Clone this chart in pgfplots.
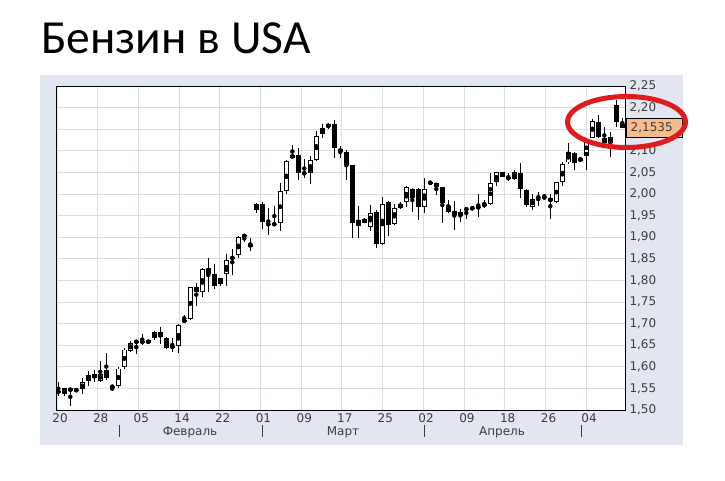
\documentclass[border=0pt]{standalone}
\usepackage{pgfplots}
\pgfplotsset{compat=1.18}
\usepackage{pgfplotstable}
\usepackage{fontspec}
\setmainfont{DejaVu Sans}
\newfontfamily\titlefont{Carlito}
\definecolor{panelc}{RGB}{225,230,241}
\definecolor{gridc}{RGB}{218,221,230}
\definecolor{labc}{RGB}{60,60,60}
\definecolor{boxc}{RGB}{248,188,140}
\definecolor{redc}{RGB}{222,28,30}
\pgfplotstableread{
x o h l c
0 1.544 1.565 1.533 1.541
1 1.538 1.551 1.533 1.550
2 1.550 1.552 1.509 1.544
3 1.546 1.548 1.544 1.546
4 1.548 1.575 1.536 1.564
5 1.567 1.590 1.556 1.581
6 1.583 1.592 1.564 1.573
7 1.568 1.613 1.564 1.583
8 1.592 1.632 1.569 1.575
9 1.554 1.554 1.545 1.554
10 1.555 1.599 1.550 1.596
11 1.599 1.643 1.596 1.640
12 1.637 1.660 1.635 1.654
13 1.658 1.662 1.629 1.658
14 1.658 1.676 1.650 1.658
15 1.654 1.663 1.653 1.662
16 1.666 1.683 1.662 1.680
17 1.680 1.693 1.652 1.669
18 1.666 1.669 1.641 1.643
19 1.646 1.666 1.635 1.646
20 1.649 1.700 1.631 1.697
21 1.704 1.721 1.704 1.709
22 1.710 1.785 1.708 1.784
23 1.784 1.793 1.741 1.774
24 1.774 1.828 1.762 1.826
25 1.828 1.851 1.774 1.815
26 1.815 1.839 1.781 1.788
27 1.791 1.806 1.788 1.805
28 1.814 1.862 1.787 1.847
29 1.852 1.872 1.812 1.852
30 1.859 1.903 1.851 1.901
31 1.903 1.905 1.889 1.903
32 1.884 1.899 1.868 1.878
33 1.964 1.980 1.957 1.977
34 1.977 1.982 1.918 1.936
35 1.930 1.967 1.906 1.930
36 1.930 1.972 1.926 1.930
37 1.934 2.026 1.915 2.007
38 2.008 2.079 2.000 2.076
39 2.084 2.113 2.084 2.090
40 2.090 2.107 2.032 2.049
41 2.048 2.082 2.036 2.048
42 2.048 2.088 2.023 2.079
43 2.079 2.145 2.076 2.134
44 2.138 2.161 2.129 2.153
45 2.154 2.165 2.151 2.162
46 2.162 2.171 2.083 2.106
47 2.104 2.112 2.083 2.097
48 2.097 2.101 2.032 2.066
49 2.066 2.067 1.899 1.933
50 1.927 1.973 1.899 1.939
51 1.943 1.944 1.932 1.933
52 1.924 1.975 1.915 1.955
53 1.959 1.963 1.874 1.884
54 1.884 1.994 1.882 1.977
55 1.982 1.983 1.903 1.928
56 1.930 1.978 1.928 1.967
57 1.968 1.982 1.965 1.976
58 1.982 2.019 1.970 2.017
59 2.012 2.013 1.959 1.991
60 2.012 2.013 1.939 1.970
61 1.969 2.036 1.957 2.011
62 2.026 2.026 2.026 2.026
63 2.026 2.026 1.997 2.016
64 2.016 2.017 1.932 1.979
65 1.972 1.986 1.957 1.959
66 1.961 1.983 1.917 1.951
67 1.949 1.965 1.936 1.959
68 1.965 1.970 1.942 1.965
69 1.967 1.969 1.965 1.967
70 1.969 2.001 1.946 1.969
71 1.976 1.986 1.968 1.972
72 1.976 2.048 1.974 2.025
73 2.027 2.052 2.019 2.050
74 2.050 2.052 2.040 2.040
75 2.037 2.048 2.030 2.037
76 2.034 2.055 2.032 2.050
77 2.048 2.071 1.991 2.011
78 2.009 2.011 1.970 1.974
79 1.970 2.001 1.962 1.988
80 1.992 2.004 1.972 1.992
81 1.992 2.000 1.990 1.992
82 1.990 2.001 1.942 1.983
83 1.982 2.028 1.980 2.027
84 2.028 2.073 2.018 2.069
85 2.073 2.118 2.069 2.097
86 2.094 2.097 2.055 2.071
87 2.077 2.086 2.073 2.083
88 2.087 2.130 2.055 2.127
89 2.130 2.173 2.129 2.169
90 2.166 2.184 2.130 2.131
91 2.129 2.154 2.117 2.117
92 2.117 2.143 2.086 2.131
93 2.206 2.217 2.156 2.167
94 2.163 2.175 2.153 2.1535
}\candles
\begin{document}
\begin{tikzpicture}[x=1pt,y=1pt]
\useasboundingbox (0,0) rectangle (725,481);
\fill[panelc] (40,36) rectangle (683,406);
\node[anchor=base west, inner sep=0pt, font=\titlefont\fontsize{47.5}{56}\selectfont] at (41,427.7) {Бензин в USA};
\begin{axis}[
  at={(56pt,71pt)}, anchor=south west, scale only axis,
  width=569pt, height=324pt,
  xmin=-0.38, xmax=94.45, ymin=1.5, ymax=2.25,
  axis background/.style={fill=white},
  axis line style={black, line width=0.8pt},
  grid=major, major grid style={color=gridc, line width=0.7pt},
  major tick length=0pt,
  xtick={-0.2,6.57,13.35,20.13,26.9,33.7,40.5,47.25,54.0,60.8,67.6,74.4,81.2,87.95},
  xticklabels={20,28,05,14,22,01,09,17,25,02,09,18,26,04},
  ytick={1.50,1.55,1.60,1.65,1.70,1.75,1.80,1.85,1.90,1.95,2.00,2.05,2.10,2.15,2.20,2.25},
  yticklabels={{1,50},{1,55},{1,60},{1,65},{1,70},{1,75},{1,80},{1,85},{1,90},{1,95},{2,00},{2,05},{2,10},{},{2,20},{2,25}},
  yticklabel pos=right,
  tick label style={font=\fontsize{12}{14}\selectfont, text=labc},
  xticklabel style={xshift=3pt},
  yticklabel style={xshift=1pt},
]
% wicks
\addplot[only marks, mark=none, error bars/.cd, y dir=both, y explicit, error mark=none,
  error bar style={black, line width=0.8pt}]
  table[x=x, y expr={(\thisrow{h}+\thisrow{l})/2}, y error expr={(\thisrow{h}-\thisrow{l})/2}] {\candles};
% bodies (outline / filled black)
\addplot[only marks, mark=none, error bars/.cd, y dir=both, y explicit, error mark=none,
  error bar style={black, line width=4.6pt}]
  table[x=x, y expr={(\thisrow{o}+\thisrow{c})/2}, y error expr={max(abs(\thisrow{o}-\thisrow{c})/2,0.0012)}] {\candles};
% white interior of rising candles
\addplot[only marks, mark=none, error bars/.cd, y dir=both, y explicit, error mark=none,
  error bar style={white, line width=2.7pt}]
  table[x=x, y expr={(\thisrow{o}+\thisrow{c})/2}, y error expr={(\thisrow{c}>\thisrow{o}) ? max(abs(\thisrow{o}-\thisrow{c})/2-0.0022,0) : 0}] {\candles};
\end{axis}
% month separators and names
\foreach \mx in {119,262,424,581} {\draw[labc, line width=0.8pt] (\mx,44) -- (\mx,56);}
\node[text=labc, font=\fontsize{12}{14}\selectfont] at (190,49) {Февраль};
\node[text=labc, font=\fontsize{12}{14}\selectfont] at (343,49) {Март};
\node[text=labc, font=\fontsize{12}{14}\selectfont] at (502,49) {Апрель};
% last price box
\draw[black, line width=0.8pt, fill=boxc] (626,343.7) rectangle (682.7,362.7);
\node[anchor=west, inner sep=0pt, text=labc, font=\fontsize{12}{14}\selectfont] at (630.5,353) {2,1535};
% highlight ellipse
\draw[redc, line width=5pt] (626.5,359) ellipse [x radius=59, y radius=25.5];
\end{tikzpicture}
\end{document}
